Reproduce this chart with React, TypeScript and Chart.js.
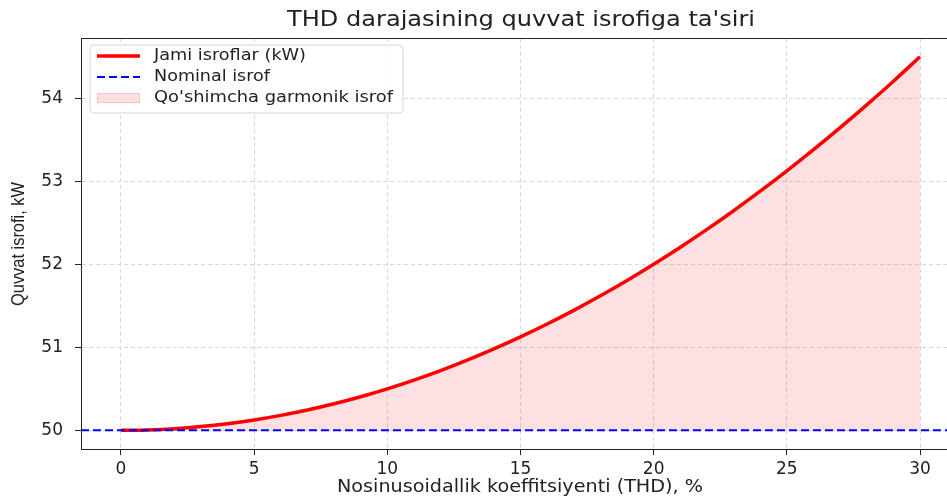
import React, { useEffect, useRef } from "react";
import { Chart, registerables } from "chart.js";

Chart.register(...registerables);

const thdPercent = [0, 1, 2, 3, 4, 5, 6, 7, 8, 9, 10, 11, 12, 13, 14, 15, 16, 17, 18, 19, 20, 21, 22, 23, 24, 25, 26, 27, 28, 29, 30];
const totalLossKW = [
  50.0, 50.005, 50.02, 50.045, 50.08, 50.125, 50.18, 50.245, 50.32, 50.405,
  50.5, 50.605, 50.72, 50.845, 50.98, 51.125, 51.28, 51.445, 51.62, 51.805,
  52.0, 52.205, 52.42, 52.645, 52.88, 53.125, 53.38, 53.645, 53.92, 54.205, 54.5,
];
const nominalLossKW = 50;
const xRange = [-1.5, 31.5];
const yRange = [49.775, 54.725];
const xTickValues = [0, 5, 10, 15, 20, 25, 30];
const yTickValues = [50, 51, 52, 53, 54];

const TITLE = "THD darajasining quvvat isrofiga ta'siri";
const X_LABEL = "Nosinusoidallik koeffitsiyenti (THD), %";
const Y_LABEL = "Quvvat isrofi, kW";
const LEGEND_LABELS = ["Jami isroflar (kW)", "Nominal isrof", "Qo'shimcha garmonik isrof"];

const FONT = "'DejaVu Sans', sans-serif";
const TEXT = "#222222";
const GRID = "#d8d8d8";

function wideText(ctx: any, text: string, x: number, y: number, font: string, targetWidth: number, align: string) {
  ctx.save();
  ctx.font = font;
  const w = ctx.measureText(text).width;
  const sx = targetWidth / w;
  ctx.translate(x, y);
  ctx.scale(sx, 1);
  ctx.textAlign = align;
  ctx.textBaseline = "middle";
  ctx.fillText(text, 0, 0);
  ctx.restore();
}

const overlayPlugin = {
  id: "overlay",
  afterDraw(chart: any) {
    const { ctx, chartArea } = chart;
    const { left, right, top, bottom } = chartArea;
    ctx.save();
    ctx.strokeStyle = TEXT;
    ctx.lineWidth = 1;
    ctx.setLineDash([]);
    ctx.strokeRect(left + 0.5, top + 0.5, right - left, bottom - top);

    ctx.fillStyle = TEXT;
    wideText(ctx, TITLE, 521, 21, `400 21px ${FONT}`, 468, "center");
    wideText(ctx, X_LABEL, 520, 488, `400 17px ${FONT}`, 366, "center");

    ctx.save();
    ctx.translate(19, 244);
    ctx.rotate(-Math.PI / 2);
    ctx.font = `400 19px 'Liberation Sans', sans-serif`;
    const yw = ctx.measureText(Y_LABEL).width;
    ctx.scale(124 / yw, 1);
    ctx.textAlign = "center";
    ctx.textBaseline = "middle";
    ctx.fillText(Y_LABEL, 0, 0);
    ctx.restore();

    const lx = 90, ly = 45, lw = 313, lh = 68, r = 4;
    ctx.beginPath();
    ctx.moveTo(lx + r, ly);
    ctx.lineTo(lx + lw - r, ly);
    ctx.arcTo(lx + lw, ly, lx + lw, ly + r, r);
    ctx.lineTo(lx + lw, ly + lh - r);
    ctx.arcTo(lx + lw, ly + lh, lx + lw - r, ly + lh, r);
    ctx.lineTo(lx + r, ly + lh);
    ctx.arcTo(lx, ly + lh, lx, ly + lh - r, r);
    ctx.lineTo(lx, ly + r);
    ctx.arcTo(lx, ly, lx + r, ly, r);
    ctx.closePath();
    ctx.fillStyle = "rgba(255,255,255,0.85)";
    ctx.fill();
    ctx.strokeStyle = "#d6d6d6";
    ctx.stroke();

    const rows = [56, 77, 98];
    ctx.strokeStyle = "#ff0000";
    ctx.lineWidth = 3.5;
    ctx.beginPath();
    ctx.moveTo(97, rows[0]);
    ctx.lineTo(140, rows[0]);
    ctx.stroke();
    ctx.strokeStyle = "#0000ff";
    ctx.lineWidth = 2;
    ctx.setLineDash([8, 4]);
    ctx.beginPath();
    ctx.moveTo(97, rows[1]);
    ctx.lineTo(140, rows[1]);
    ctx.stroke();
    ctx.setLineDash([]);
    ctx.fillStyle = "rgba(255,0,0,0.12)";
    ctx.fillRect(97, rows[2] - 5, 43, 10);
    ctx.strokeStyle = "rgba(255,0,0,0.12)";
    ctx.lineWidth = 1;
    ctx.strokeRect(97.5, rows[2] - 4.5, 42, 9);

    ctx.fillStyle = TEXT;
    const legendWidths = [152, 116, 239];
    LEGEND_LABELS.forEach((t, i) => wideText(ctx, t, 154, rows[i], `400 16px ${FONT}`, legendWidths[i], "left"));
    ctx.restore();
  },
};

const gridOpts = {
  color: GRID,
  drawTicks: true,
  tickLength: 6,
  tickColor: TEXT,
  tickBorderDash: [],
  tickWidth: 1,
};

export default function App() {
  const canvasRef = useRef<HTMLCanvasElement | null>(null);

  useEffect(() => {
    const canvas = canvasRef.current;
    if (!canvas) return;
    const chart = new Chart(canvas, {
      type: "line",
      data: {
        datasets: [
          {
            label: LEGEND_LABELS[1],
            data: xRange.map((x) => ({ x, y: nominalLossKW })),
            borderColor: "#0000ff",
            borderWidth: 2,
            borderDash: [8, 4],
            pointRadius: 0,
            fill: false,
            order: 0,
          },
          {
            label: LEGEND_LABELS[0],
            data: thdPercent.map((x, i) => ({ x, y: totalLossKW[i] })),
            borderColor: "#ff0000",
            borderWidth: 3.5,
            pointRadius: 0,
            tension: 0.3,
            fill: { value: nominalLossKW },
            backgroundColor: "rgba(255,0,0,0.12)",
            order: 1,
          },
        ],
      },
      options: {
        responsive: false,
        animation: false,
        devicePixelRatio: 1,
        layout: { padding: { left: 0, top: 38, right: 40, bottom: 0 } },
        plugins: {
          legend: { display: false },
          tooltip: { enabled: false },
          title: { display: false },
        },
        scales: {
          x: {
            type: "linear",
            min: xRange[0],
            max: xRange[1],
            afterBuildTicks: (s: any) => {
              s.ticks = xTickValues.map((v) => ({ value: v }));
            },
            afterFit: (s: any) => {
              s.height = 48;
            },
            grid: gridOpts,
            border: { display: true, color: TEXT, width: 1, dash: [4, 3] },
            ticks: {
              color: TEXT,
              font: { family: FONT, size: 17 },
              padding: 4,
              maxRotation: 0,
            },
          },
          y: {
            type: "linear",
            min: yRange[0],
            max: yRange[1],
            afterBuildTicks: (s: any) => {
              s.ticks = yTickValues.map((v) => ({ value: v }));
            },
            afterFit: (s: any) => {
              s.width = 81;
            },
            grid: gridOpts,
            border: { display: true, color: TEXT, width: 1, dash: [4, 3] },
            ticks: {
              color: TEXT,
              font: { family: FONT, size: 17 },
              padding: 12,
            },
          },
        },
      } as any,
      plugins: [overlayPlugin],
    });
    return () => chart.destroy();
  }, []);

  return (
    <div style={{ position: "fixed", left: 0, top: 0, width: 947, height: 497, overflow: "hidden", background: "#fff" }}>
      <canvas ref={canvasRef} width={1000} height={497} style={{ width: 1000, height: 497, display: "block" }} />
    </div>
  );
}
